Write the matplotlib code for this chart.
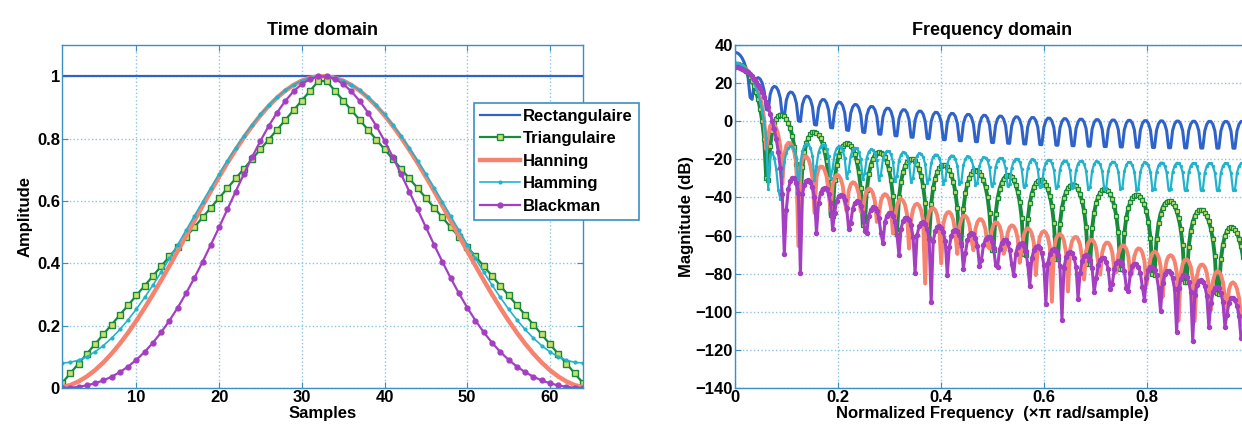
import numpy as np
import matplotlib
matplotlib.use("Agg")
import matplotlib.pyplot as plt

# window settings (64 samples, as in the MATLAB windows)
N = 64
NFREQ = 256
names = ["Rectangulaire", "Triangulaire", "Hanning", "Hamming", "Blackman"]
windows = [
    np.ones(N),
    np.bartlett(2 * N + 1)[1::2],   # same values as triang(64)
    np.hanning(N + 2)[1:-1],        # same values as hanning(64), no zero ends
    np.hamming(N),
    np.blackman(N),
]

colors = ["#2f63c9", "#178a3c", "#f5836f", "#22b3cc", "#a33fc0"]
markers = [None, "s", None, ".", "o"]
msizes_time = [0, 4.5, 0, 4, 3.5]
msizes_freq = [0, 3.5, 0, 3, 3]
mfaces = [None, "#c9e06a", None, "#22b3cc", "#a33fc0"]
lws_time = [1.6, 1.6, 3.2, 1.2, 1.6]
lws_freq = [2.2, 2.8, 2.8, 1.6, 2.2]

samples = np.arange(1, N + 1)
fgrid = (np.arange(NFREQ) + 0.5) / NFREQ  # normalized frequency (x pi rad/sample)

def mag_db(w):
    n = np.arange(len(w))
    H = np.exp(-1j * np.pi * np.outer(fgrid, n)) @ w
    return 20 * np.log10(np.abs(H) + 1e-12)

plt.rcParams["font.family"] = ["Liberation Sans", "DejaVu Sans"]
plt.rcParams["font.weight"] = "bold"
plt.rcParams["font.size"] = 12

spine_col = "#3b8fc4"
grid_col = "#8cc4e6"

fig = plt.figure(figsize=(12.42, 4.30), dpi=100)
ax1 = fig.add_axes([0.0499, 0.0977, 0.4195, 0.7977])
ax2 = fig.add_axes([0.5918, 0.0977, 0.4147, 0.7977])

for name, w, c, m, ms, mf, lw in zip(names, windows, colors, markers, msizes_time, mfaces, lws_time):
    ax1.plot(samples, w, color=c, lw=lw, marker=m, ms=ms, mfc=mf, mec=c, mew=1.0, label=name)

for name, w, c, m, ms, mf, lw in zip(names, windows, colors, markers, msizes_freq, mfaces, lws_freq):
    ax2.plot(fgrid, mag_db(w), color=c, lw=lw, marker=m, ms=ms, mfc=mf, mec=c, mew=0.9, label=name)

ax1.set_xlim(1, N)
ax1.set_ylim(0, 1.1)
ax1.set_xticks([10, 20, 30, 40, 50, 60])
ax1.set_yticks([0, 0.2, 0.4, 0.6, 0.8, 1])
ax1.set_yticklabels(["0", "0.2", "0.4", "0.6", "0.8", "1"])
ax1.set_title("Time domain", fontweight="bold", fontsize=13, pad=7)
ax1.set_xlabel("Samples", fontweight="bold", labelpad=0.5)
ax1.set_ylabel("Amplitude", fontweight="bold", labelpad=3)

ax2.set_xlim(0, 1)
ax2.set_ylim(-140, 40)
ax2.set_xticks([0, 0.2, 0.4, 0.6, 0.8])
ax2.set_xticklabels(["0", "0.2", "0.4", "0.6", "0.8"])
ax2.set_yticks(np.arange(-140, 41, 20))
ax2.set_title("Frequency domain", fontweight="bold", fontsize=13, pad=7)
ax2.set_xlabel("Normalized Frequency  (\u00d7\u03c0 rad/sample)", fontweight="bold", labelpad=0.5)
ax2.set_ylabel("Magnitude (dB)", fontweight="bold", labelpad=1)

for ax in (ax1, ax2):
    ax.grid(True, color=grid_col, ls=":", lw=1.0)
    ax.tick_params(direction="in", top=True, right=True, length=4, pad=1.5,
                   color=spine_col, labelcolor="black")
    for s in ax.spines.values():
        s.set_color(spine_col)
        s.set_linewidth(1.0)
    for lab in ax.get_xticklabels() + ax.get_yticklabels():
        lab.set_fontweight("bold")

leg = ax1.legend(loc="upper left", bbox_to_anchor=(474 / 1242, 1 - 103 / 430),
                 bbox_transform=fig.transFigure, fancybox=False, framealpha=1,
                 edgecolor=spine_col, handlelength=2.4, handletextpad=0.2,
                 borderpad=0.35, labelspacing=0.45, borderaxespad=0)
leg.get_frame().set_linewidth(1.2)
for t in leg.get_texts():
    t.set_fontweight("bold")

fig.savefig("out.png", dpi=100)
